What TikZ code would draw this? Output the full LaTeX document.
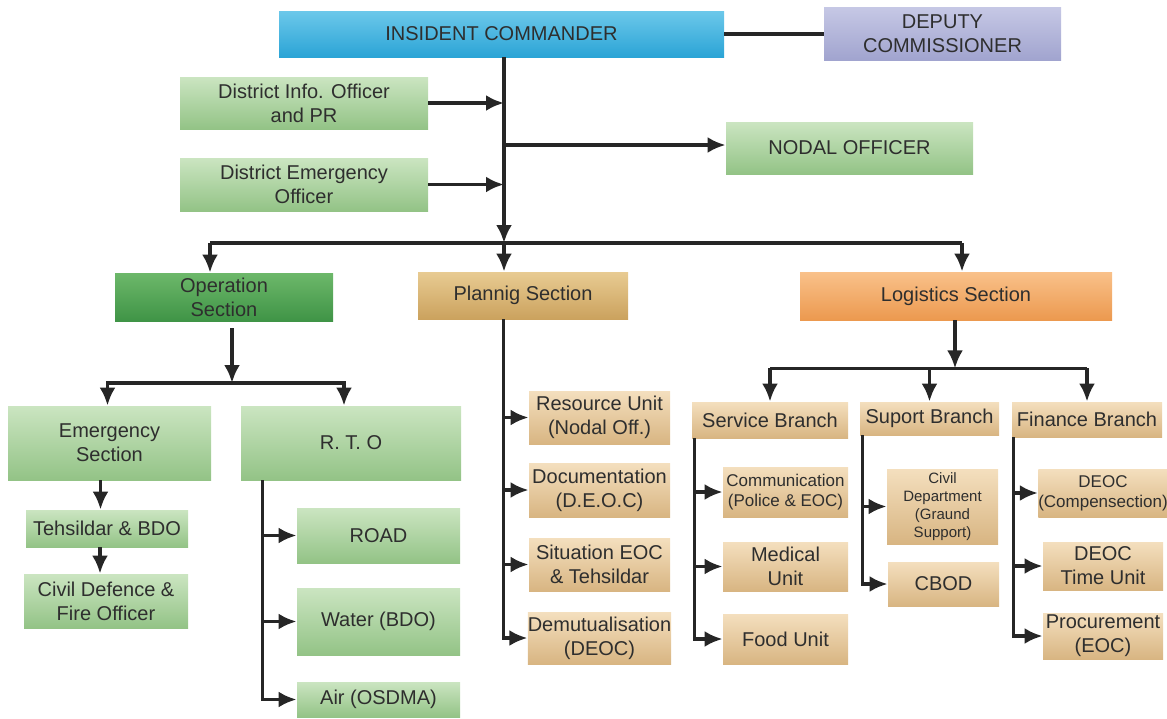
\documentclass[tikz,border=0pt]{standalone}
\usepackage{fontspec}
\setmainfont{Liberation Sans}
\usepackage{xcolor}
\usepackage{tikz}
\usetikzlibrary{arrows.meta, calc, positioning}
\definecolor{icTop}{HTML}{6CC8EA}
\definecolor{icBot}{HTML}{2BA4D6}
\definecolor{dcTop}{HTML}{C6C8E5}
\definecolor{dcBot}{HTML}{A1A4CF}
\definecolor{lgTop}{HTML}{CBE5C1}
\definecolor{lgBot}{HTML}{93C386}
\definecolor{dgTop}{HTML}{6DB86A}
\definecolor{dgBot}{HTML}{3F9446}
\definecolor{plTop}{HTML}{E8CB92}
\definecolor{plBot}{HTML}{CBA25E}
\definecolor{loTop}{HTML}{F9C18A}
\definecolor{loBot}{HTML}{EC994F}
\definecolor{tnTop}{HTML}{F4DFBE}
\definecolor{tnBot}{HTML}{D8B582}
\definecolor{txt}{HTML}{2E2E2E}
\definecolor{lnc}{HTML}{262626}
\tikzset{
	box/.style={rectangle, inner sep=0pt, align=center, text=txt, font=\fontsize{10}{12}\selectfont},
	sz/.style 2 args={minimum width=#1*0.5pt, minimum height=#2*0.5pt},
	cmd/.style={box, top color=icTop, bottom color=icBot},
	dep/.style={box, top color=dcTop, bottom color=dcBot},
	lg/.style={box, top color=lgTop, bottom color=lgBot},
	dg/.style={box, top color=dgTop, bottom color=dgBot},
	pl/.style={box, top color=plTop, bottom color=plBot},
	lo/.style={box, top color=loTop, bottom color=loBot},
	tn/.style={box, top color=tnTop, bottom color=tnBot},
	sm/.style={font=\fontsize{8.5}{10}\selectfont},
	xs/.style={font=\fontsize{7.5}{9}\selectfont},
	ln/.style={draw=lnc, line width=1.8pt},
	arr/.style={ln, -{Latex[length=9pt,width=8pt]}}
}

\begin{document}
\begin{tikzpicture}[x=0.5pt, y=-0.5pt]
	\useasboundingbox (0,0) rectangle (1167,718);
	% top
	\node[cmd, sz={445}{46}] (ic) at (501.5,34) {INSIDENT COMMANDER};
	\node[dep, sz={237}{53}] (dc) at (942.5,33.5) {DEPUTY\\COMMISSIONER};
	\node[lg, sz={248}{52}] (dio) at (304,103) {District Info. Officer\\and PR};
	\node[lg, sz={248}{53}] (deo) at (304,184.5) {District Emergency\\Officer};
	\node[lg, sz={247}{52}] (nodal) at (849.5,148) {NODAL OFFICER};
	% sections
	\node[dg, sz={218}{48}] (ops) at (224,297) {Operation\\Section};
	\node[pl, sz={210}{47}] (plan) at (523,295.5) {Plannig Section};
	\node[lo, sz={312}{48}] (logi) at (956,296) {Logistics Section};
	% operation
	\node[lg, sz={203}{74}] (ems) at (109.5,443) {Emergency\\Section};
	\node[lg, sz={220}{74}] (rto) at (351,443) {R. T. O};
	\node[lg, sz={162}{37}] (tehs) at (107,528.5) {Tehsildar \& BDO};
	\node[lg, sz={164}{54}] (civdef) at (106,601) {Civil Defence \&\\Fire Officer};
	\node[lg, sz={163}{55}] (road) at (378.5,535.5) {ROAD};
	\node[lg, sz={163}{67}] (water) at (378.5,621.5) {Water (BDO)};
	\node[lg, sz={163}{35}] (air) at (378.5,699.5) {Air (OSDMA)};
	% planning
	\node[tn, sz={141}{53}] (res) at (599.5,417.5) {Resource Unit\\(Nodal Off.)};
	\node[tn, sz={141}{54}] (doc) at (599.5,490) {Documentation\\(D.E.O.C)};
	\node[tn, sz={141}{53}] (sit) at (599.5,564.5) {Situation EOC\\\& Tehsildar};
	\node[tn, sz={141}{52}] (demu) at (599.5,638) {Demutualisation\\(DEOC)};
	% logistics
	\node[tn, sz={156}{36}] (serv) at (770,420) {Service Branch};
	\node[tn, sz={139}{33}] (supb) at (929.5,418.5) {Suport Branch};
	\node[tn, sz={150}{35}] (fin) at (1087,419.5) {Finance Branch};
	\node[tn, sm, sz={125}{50}] (comm) at (785.5,492) {Communication\\(Police \& EOC)};
	\node[tn, sz={125}{49}] (med) at (785.5,566.5) {Medical\\Unit};
	\node[tn, sz={125}{50}] (food) at (785.5,639) {Food Unit};
	\node[tn, xs, sz={111}{75}] (civd) at (942.5,506.5) {Civil\\Department\\(Graund\\Support)};
	\node[tn, sz={111}{44}] (cbod) at (943.5,584) {CBOD};
	\node[tn, sm, sz={120}{48}] (comp) at (1103,493) {DEOC\\(Compensection)};
	\node[tn, sz={120}{48}] (time) at (1103,566) {DEOC\\Time Unit};
	\node[tn, sz={120}{46}] (proc) at (1103,636) {Procurement\\(EOC)};
	% junctions
	\coordinate (trk) at (504,243);
	\coordinate (bl) at (210,243);
	\coordinate (br) at (962,243);
	\coordinate (ob) at (232,383);
	\coordinate (lb) at ($(logi.south)+(-1,48)$);
	\coordinate (rtk) at ($(rto.south west)+(22,0)$);
	\coordinate (ptk) at ($(plan.south west)+(86,0)$);
	\coordinate (stk) at ($(serv.south west)+(3,0)$);
	\coordinate (utk) at ($(supb.south west)+(3,0)$);
	\coordinate (ftk) at ($(fin.south west)+(2,0)$);
	% links
	\draw[ln] (ic.east) -- (ic.east -| dc.west);
	\draw[arr] (ic.south -| trk) -- (trk);
	\draw[arr] (dio.east) -- (dio.east -| trk);
	\draw[arr] (deo.east) -- (deo.east -| trk);
	\draw[arr] (trk |- 0,145) -- (nodal.west |- 0,145);
	\draw[ln] (bl) -- (br);
	\draw[arr] (bl) -- (bl |- ops.north);
	\draw[arr] (trk) -- (trk |- plan.north);
	\draw[arr] (br) -- (br |- logi.north);
	\draw[arr] ($(ops.south -| ob)+(0,7)$) -- (ob);
	\draw[arr] (ob) -| ($(ems.north)+(-2,0)$);
	\draw[arr] (ob) -| ($(rto.north)+(-7,0)$);
	\draw[arr] ($(ems.south)+(-9,0)$) -- ($(ems.south |- tehs.north)+(-9,0)$);
	\draw[arr] ($(tehs.south)+(-7,0)$) -- ($(tehs.south |- civdef.north)+(-7,0)$);
	\foreach \n in {road,water,air} \draw[arr] (rtk) |- (\n.west);
	\foreach \n in {res,doc,sit,demu} \draw[arr] (ptk) |- (\n.west);
	\draw[arr] (logi.south -| lb) -- (lb);
	\draw[ln] (serv.north |- lb) -- (fin.north |- lb);
	\foreach \n in {serv,supb,fin} \draw[arr] (lb -| \n.north) -- (\n.north);
	\foreach \n in {comm,med,food} \draw[arr] (stk) |- (\n.west);
	\foreach \n in {civd,cbod} \draw[arr] (utk) |- (\n.west);
	\foreach \n in {comp,time,proc} \draw[arr] (ftk) |- (\n.west);
\end{tikzpicture}
\end{document}
